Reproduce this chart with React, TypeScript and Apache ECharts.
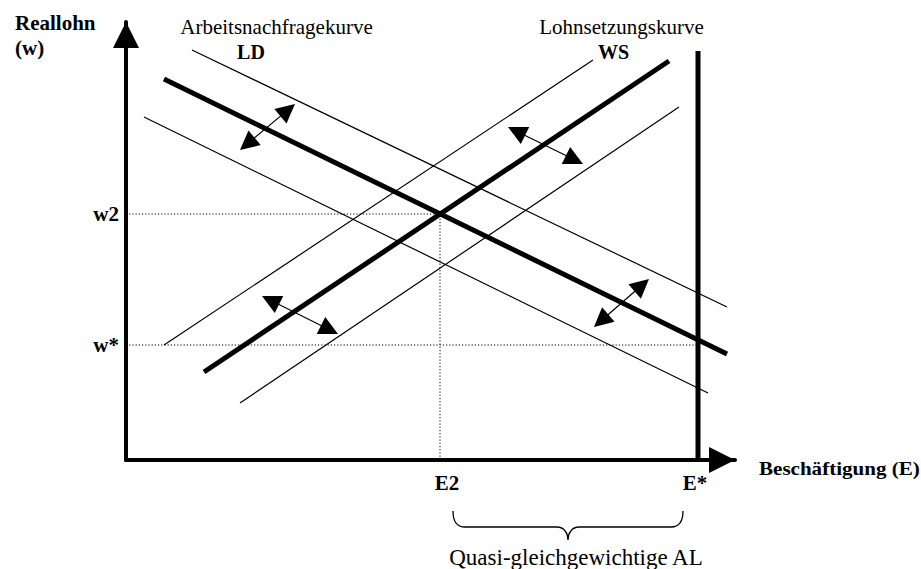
import React, { useEffect, useRef } from "react";
import * as echarts from "echarts";

// ---- data (chart units: E to the right, w upwards) ----
const xTickValues = [314, 572];
const xTickLabels = ["E2", "E*"];
const yTickValues = [115, 246];
const yTickLabels = ["w*", "w2"];

const ldMain = [[38, 381], [601, 106]];
const ldUpper = [[66, 410], [601, 153]];
const ldLower = [[18, 343], [582, 67]];
const wsMain = [[78, 88], [543, 399]];
const wsUpper = [[38, 115], [467, 400]];
const wsLower = [[114, 57], [553, 353]];
const eStarLine = [[572, 0], [572, 409]];
const w2Guide = [[0, 246], [314, 246]];
const e2Guide = [[314, 0], [314, 246]];
const wStarGuide = [[0, 115], [572, 115]];

const shiftArrows = [
  [[114, 310], [169, 356]],
  [[382, 333], [457, 296]],
  [[136, 164], [212, 126]],
  [[468, 133], [523, 181]],
];

const SERIF = '"Liberation Serif", "Times New Roman", Times, serif';
const HEAD = 19;

echarts.graphic.registerShape(
  "brace",
  echarts.graphic.extendPath(
    "M0,0 C0,11 4,16 12,16 L104,16 C111,16 115,22 115,29 C115,22 119,16 126,16 L218,16 C226,16 230,11 230,0",
    {}
  )
);

function headCentres(a: number[][]) {
  const [p, q] = a;
  const dx = q[0] - p[0];
  const dy = q[1] - p[1];
  const len = Math.sqrt(dx * dx + dy * dy);
  const ux = dx / len;
  const uy = dy / len;
  const h = HEAD / 2;
  return [
    [p[0] + ux * h, p[1] + uy * h],
    [q[0] - ux * h, q[1] - uy * h],
  ];
}

function lineSeries(data: number[][], width: number, dash?: any) {
  return {
    type: "line",
    data,
    symbol: "none",
    showSymbol: false,
    clip: false,
    silent: true,
    lineStyle: { color: "#000", width, type: dash || "solid", cap: "butt" },
  };
}

function txt(text: string, x: number, y: number, size: number, bold: boolean, align: string, extra: any = {}) {
  return {
    type: "text",
    x,
    y,
    silent: true,
    ...extra,
    style: {
      text,
      fontFamily: SERIF,
      fontSize: size,
      fontWeight: bold ? "bold" : "normal",
      fill: "#000",
      align,
      verticalAlign: "middle",
    },
  };
}

export default function App() {
  const ref = useRef<HTMLDivElement>(null);
  useEffect(() => {
    if (!ref.current) return;
    const chart = echarts.init(ref.current, null, { renderer: "svg" });
    const labelStyle = {
      fontFamily: SERIF,
      fontSize: 21,
      fontWeight: "bold",
      color: "#000",
    };
    const xRich = {
      l: { ...labelStyle, padding: [0, 0, 0, 14] },
      r: { ...labelStyle, padding: [0, 6, 0, 0] },
    };
    chart.setOption({
      animation: false,
      backgroundColor: "#fff",
      grid: { left: 126, right: 186, top: 22, bottom: 109, containLabel: false, outerBoundsMode: "none" },
      xAxis: {
        type: "value",
        min: 0,
        max: 609,
        splitLine: { show: false },
        axisTick: { show: false },
        axisLine: {
          show: true,
          onZero: false,
          lineStyle: { color: "#000", width: 4 },
          symbol: ["none", "triangle"],
          symbolSize: [26, 26],
          symbolOffset: [0, -13],
        },
        axisLabel: {
          ...labelStyle,
          margin: 12,
          customValues: xTickValues,
          rich: xRich,
          formatter: (v: number) => {
            const i = xTickValues.indexOf(v);
            if (i < 0) return "";
            return "{" + (i === 0 ? "l" : "r") + "|" + xTickLabels[i] + "}";
          },
        },
      },
      yAxis: {
        type: "value",
        min: 0,
        max: 438,
        splitLine: { show: false },
        axisTick: { show: false },
        axisLine: {
          show: true,
          onZero: false,
          lineStyle: { color: "#000", width: 4 },
          symbol: ["none", "triangle"],
          symbolSize: [26, 26],
          symbolOffset: [0, -13],
        },
        axisLabel: {
          ...labelStyle,
          margin: 7,
          customValues: yTickValues,
          formatter: (v: number) => yTickLabels[yTickValues.indexOf(v)] ?? "",
        },
      },
      series: [
        lineSeries(w2Guide, 1, [1.2, 2]),
        lineSeries(e2Guide, 1, [1.2, 2]),
        lineSeries(wStarGuide, 1, [1.2, 2]),
        lineSeries(ldUpper, 1.2),
        lineSeries(ldLower, 1.2),
        lineSeries(wsUpper, 1.2),
        lineSeries(wsLower, 1.2),
        lineSeries(ldMain, 5),
        lineSeries(wsMain, 5),
        lineSeries(eStarLine, 5),
        {
          type: "lines",
          coordinateSystem: "cartesian2d",
          polyline: false,
          clip: false,
          silent: true,
          symbol: ["triangle", "triangle"],
          symbolSize: HEAD,
          lineStyle: { color: "#000", width: 1.2, opacity: 1 },
          data: shiftArrows.map((a) => ({ coords: headCentres(a) })),
        },
      ],
      graphic: [
        txt("Reallohn", 15, 22.5, 21, true, "left"),
        txt("(w)", 15, 48, 21, true, "left"),
        txt("Arbeitsnachfragekurve", 276.5, 27, 21, false, "center"),
        txt("LD", 251, 51.5, 20, true, "center"),
        txt("Lohnsetzungskurve", 621.5, 26.5, 21, false, "center"),
        txt("WS", 613.5, 51.5, 20, true, "center"),
        txt("Beschäftigung (E)", 759, 469, 18, true, "left", { scaleX: 1.17 }),
        txt("Quasi-gleichgewichtige AL", 576, 557, 23, false, "center"),
        {
          type: "brace",
          x: 453,
          y: 511,
          silent: true,
          style: { stroke: "#000", fill: "none", lineWidth: 1.3 },
        },
      ],
    });
    return () => chart.dispose();
  }, []);
  return (
    <div
      ref={ref}
      style={{ position: "fixed", left: 0, top: 0, width: 921, height: 569, background: "#fff" }}
    />
  );
}
